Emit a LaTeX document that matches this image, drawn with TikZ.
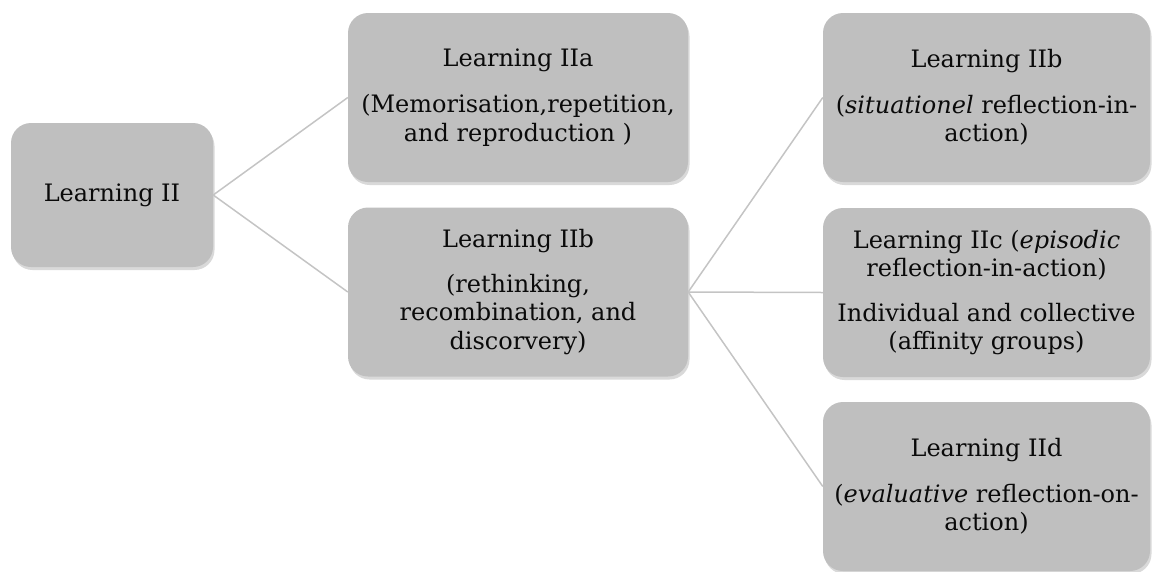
\documentclass[tikz,border=0pt]{standalone}
\usepackage{fontspec}
\setmainfont{DejaVu Serif}
\usetikzlibrary{shadows}
\definecolor{boxgray}{HTML}{BFBFBF}
\definecolor{linegray}{HTML}{C4C4C4}
\definecolor{textdark}{HTML}{0A0A0A}
\begin{document}
\begin{tikzpicture}[x=1pt,y=-1pt,
  box/.style={draw=none, fill=boxgray, rounded corners=20pt, align=center,
    inner sep=0pt, font=\fontsize{24}{28.5}\selectfont, text=textdark,
    drop shadow={opacity=0.3, shadow xshift=1.5pt, shadow yshift=-3pt}},
  rootbox/.style={box, minimum width=202pt, minimum height=144pt},
  midbox/.style={box, minimum width=340pt, minimum height=169pt},
  rightbox/.style={box, minimum width=327pt, minimum height=169pt},
  conn/.style={draw=linegray, line width=1.5pt}]
\useasboundingbox (0,0) rectangle (1156,571);

\node[rootbox] (l2) at (112,195) {Learning II};

\node[midbox] (l2a) at (518,97.5) {Learning IIa\\[18pt](Memorisation,repetition,\\and reproduction )};
\node[midbox] (l2b) at (518,292) {Learning IIb\\[16pt](rethinking,\\recombination, and\\discorvery)};

\node[rightbox] (r1) at (986.5,97.5) {Learning IIb\\[17pt](\textit{situationel} reflection-in-\\action)};
\node[rightbox] (r2) at (986.5,292.5) {Learning IIc (\textit{episodic}\\reflection-in-action)\\[16pt]Individual and collective\\(affinity groups)};
\node[rightbox] (r3) at (986.5,486.5) {Learning IId\\[17pt](\textit{evaluative} reflection-on-\\action)};

\draw[conn] (l2.east) -- (l2a.west);
\draw[conn] (l2.east) -- (l2b.west);
\draw[conn] (l2b.east) -- (r1.west);
\draw[conn] (l2b.east) -- (r2.west);
\draw[conn] (l2b.east) -- (r3.west);
\end{tikzpicture}
\end{document}
